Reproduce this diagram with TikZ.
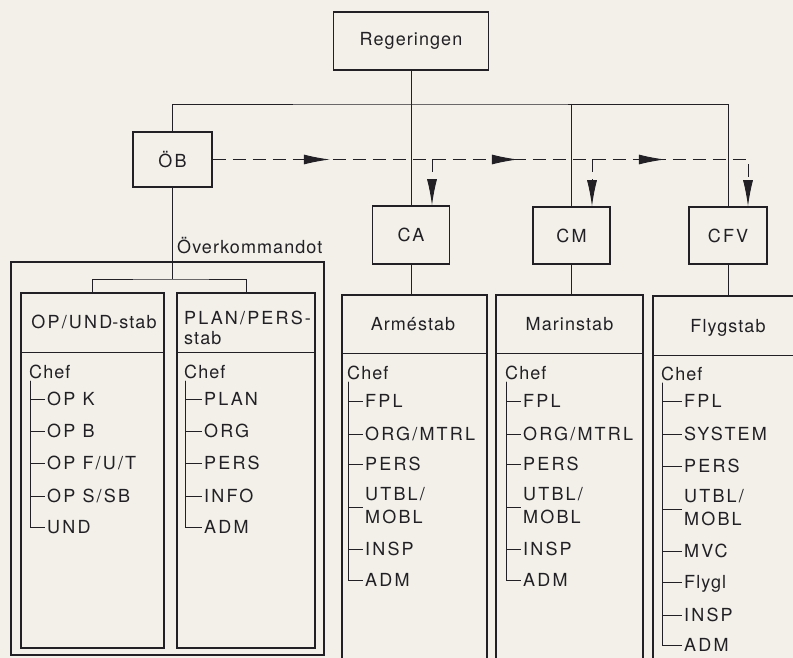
\documentclass[tikz,border=0pt]{standalone}
\usepackage{fontspec}
\setmainfont{TeX Gyre Heros}[LetterSpace=6]
\newfontfamily\capsfont{TeX Gyre Heros}[LetterSpace=12]
\usetikzlibrary{arrows.meta, positioning, decorations.markings}

\definecolor{paper}{RGB}{242,240,233}
\definecolor{ink}{RGB}{34,32,36}
\newcommand{\orgfont}{\fontsize{18}{20}\selectfont}

\tikzset{
  box/.style={draw=ink, line width=1.5pt},
  link/.style={draw=ink, line width=0.9pt},
  order/.style={draw=ink, line width=0.9pt, dash pattern=on 13pt off 7pt},
  ordertip/.style={-{Latex[length=26pt, width=10pt]}},
  tree/.style={draw=ink, line width=0.7pt},
  caps/.style={font=\orgfont\capsfont},
  item/.style={anchor=base west, inner sep=2pt},
}

\begin{document}
\begin{tikzpicture}[x=1pt, y=-1pt, every node/.style={font=\orgfont, text=ink}]
    \fill[paper, use as bounding box] (0,0) rectangle (793,658);
    \clip (0,0) rectangle (793,658);

    % ledningen
    \node[box, minimum width=155, minimum height=58] (reg) at (411,41) {Regeringen};
    \node[box, caps, minimum width=79, minimum height=55] (ob) at (172.5,159.5) {ÖB};
    \node[box, caps, minimum width=77, minimum height=58] (ca) at (411,235) {CA};
    \node[box, caps, minimum width=77, minimum height=57] (cm) at (571.5,235.5) {CM};
    \node[box, caps, minimum width=78, minimum height=57] (cfv) at (728,235.5) {CFV};
    \coordinate (bus) at (411,104);
    \draw[link] (reg) -- (ca);
    \draw[link] (ob) |- (bus) -| (cfv);
    \draw[link] (bus -| cm) -- (cm);

    % order från ÖB
    \coordinate (dropca) at ([xshift=21pt]ca.north);
    \coordinate (dropcm) at ([xshift=20.5pt]cm.north);
    \coordinate (dropcfv) at ([xshift=20pt]cfv.north);
    \draw[order, ordertip, postaction={decorate}, decoration={markings,
        mark=at position 117pt with {\arrow{Latex[length=26pt, width=10pt]}},
        mark=at position 305pt with {\arrow{Latex[length=26pt, width=10pt]}},
        mark=at position 452pt with {\arrow{Latex[length=26pt, width=10pt]}}}]
        (ob) -- (ob -| dropcfv) -- (dropcfv);
    \draw[order, ordertip] (ob -| dropca) -- (dropca);
    \draw[order, ordertip] (ob -| dropcm) -- (dropcm);

    % Överkommandot
    \node[box, minimum width=313, minimum height=393] (okbox) at (167.5,458.5) {};
    \node[anchor=base west, inner sep=0pt] (oklabel) at (177,253) {Överkommandot};
    \node[box, minimum width=143, minimum height=355] (opund) at (92.5,470.5) {};
    \node[box, minimum width=138, minimum height=355] (planpers) at (246,470.5) {};
    \coordinate (okbus) at (172.5,279);
    \draw[link] (ob) -- (okbus);
    \draw[link] (opund) |- (okbus) -| (planpers);

    \draw[link] ([yshift=-60pt]opund.north west) -- ([yshift=-60pt]opund.north east);
    \node[anchor=base] (opundtitle) at (94,328) {{\capsfont OP/UND}-stab};
    \node[item] (chefop) at (27,378) {Chef};
    \foreach \tag/\txt/\y in {opk/OP K/405, opb/OP B/437, opfut/{OP F/U/T}/469, opssb/{OP S/SB}/502, opund/UND/533} {
        \node[item, caps] (i\tag) at (45,\y) {\txt};
        \draw[tree] ([xshift=3pt]chefop.south west) |- ([yshift=6pt]i\tag.base west);
    }

    \draw[link] ([yshift=-60pt]planpers.north west) -- ([yshift=-60pt]planpers.north east);
    \node[anchor=north west, inner sep=0pt, align=left] (planperstitle) at (184,311) {{\capsfont PLAN/PERS-}\\stab};
    \node[item] (chefplan) at (182,378) {Chef};
    \foreach \tag/\txt/\y in {pplan/PLAN/405, porg/ORG/437, ppers/PERS/469, pinfo/INFO/502, padm/ADM/533} {
        \node[item, caps] (\tag) at (202,\y) {\txt};
        \draw[tree] ([xshift=3pt]chefplan.south west) |- ([yshift=6pt]\tag.base west);
    }

    % försvarsgrenarnas staber
    \node[box, minimum width=145, minimum height=420] (arme) at (414.5,505) {};
    \node[box, minimum width=147, minimum height=420] (marin) at (569.5,505) {};
    \node[box, minimum width=150, minimum height=420] (flyg) at (728,506) {};
    \draw[link] (ca) -- (ca |- arme.north);
    \draw[link] (cm) -- (cm |- marin.north);
    \draw[link] (cfv) -- (cfv |- flyg.north);

    \draw[link] ([yshift=-59pt]arme.north west) -- ([yshift=-59pt]arme.north east);
    \node[anchor=base] (armetitle) at (413,330) {Arméstab};
    \node[item] (chefarme) at (345,379) {Chef};
    \foreach \tag/\txt/\y/\dy in {afpl/FPL/407/6, aorg/{ORG/MTRL}/440/6, apers/PERS/470/6, autbl/{UTBL/}/500/-7, ainsp/INSP/555/6, aadm/ADM/586/6} {
        \node[item, caps] (\tag) at (363,\y) {\txt};
        \draw[tree] ([xshift=3pt]chefarme.south west) |- ([yshift=\dy pt]\tag.base west);
    }
    \node[item, caps] (amobl) at (363,523) {MOBL};

    \draw[link] ([yshift=-59pt]marin.north west) -- ([yshift=-59pt]marin.north east);
    \node[anchor=base] (marintitle) at (569.5,330) {Marinstab};
    \node[item] (chefmarin) at (503,379) {Chef};
    \foreach \tag/\txt/\y/\dy in {mfpl/FPL/407/6, morg/{ORG/MTRL}/440/6, mpers/PERS/470/6, mutbl/{UTBL/}/500/-7, minsp/INSP/555/6, madm/ADM/586/6} {
        \node[item, caps] (\tag) at (521,\y) {\txt};
        \draw[tree] ([xshift=3pt]chefmarin.south west) |- ([yshift=\dy pt]\tag.base west);
    }
    \node[item, caps] (mmobl) at (521,523) {MOBL};

    \draw[link] ([yshift=-60pt]flyg.north west) -- ([yshift=-60pt]flyg.north east);
    \node[anchor=base] (flygtitle) at (728,332) {Flygstab};
    \node[item] (chefflyg) at (659,380) {Chef};
    \foreach \tag/\txt/\y/\dy in {ffpl/FPL/407/6, fsys/SYSTEM/440/6, fpers/PERS/472/6, futbl/{UTBL/}/502/-7, fmvc/MVC/557/6, fflygl/{\rmfamily Flygl}/588/6, finsp/INSP/621/6, fadm/ADM/651/6} {
        \node[item, caps] (\tag) at (682,\y) {\txt};
        \draw[tree] ([xshift=3pt]chefflyg.south west) |- ([yshift=\dy pt]\tag.base west);
    }
    \node[item, caps] (fmobl) at (682,525) {MOBL};
\end{tikzpicture}
\end{document}
